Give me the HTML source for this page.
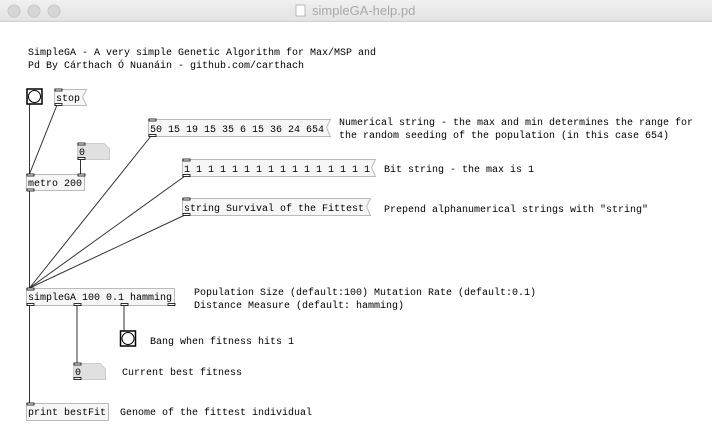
<!DOCTYPE html>
<html><head><meta charset="utf-8"><style>
html,body{margin:0;padding:0;background:#fff;width:712px;height:440px;overflow:hidden}
text{font-family:"Liberation Mono",monospace;font-size:10px;fill:#000}
</style></head><body>
<svg width="712" height="440" viewBox="0 0 712 440" xmlns="http://www.w3.org/2000/svg">
<defs><linearGradient id="tb" x1="0" y1="0" x2="0" y2="1"><stop offset="0" stop-color="#f0f0f0"/><stop offset="1" stop-color="#e2e2e2"/></linearGradient></defs>
<rect x="0" y="0" width="712" height="22" fill="url(#tb)"/>
<line x1="0" y1="21.5" x2="712" y2="21.5" stroke="#d0d0d0"/>
<circle cx="14" cy="11" r="6" fill="#d6d6d6" stroke="#c8c8c8"/>
<circle cx="34" cy="11" r="6" fill="#d6d6d6" stroke="#c8c8c8"/>
<circle cx="54" cy="11" r="6" fill="#d6d6d6" stroke="#c8c8c8"/>
<rect x="296" y="5" width="9" height="11" fill="#fff" stroke="#aaa" stroke-width="0.8"/>
<text x="312" y="15" style="font-family:'Liberation Sans',sans-serif;font-size:13px;fill:#a8a8a8">simpleGA-help.pd</text>

<text x="28" y="55">SimpleGA - A very simple Genetic Algorithm for Max/MSP and</text>
<text x="28" y="68">Pd By Cárthach Ó Nuanáin - github.com/carthach</text>

<g stroke="#333" stroke-width="1" fill="none">
<line x1="29.5" y1="104" x2="29.5" y2="174"/>
<line x1="57" y1="105" x2="29.5" y2="174"/>
<line x1="80.5" y1="159" x2="80.5" y2="174"/>
<line x1="29.5" y1="190" x2="29.5" y2="288"/>
<line x1="151" y1="136" x2="29.5" y2="288"/>
<line x1="185" y1="176" x2="29.5" y2="288"/>
<line x1="185" y1="215" x2="29.5" y2="288"/>
<line x1="29.5" y1="305" x2="29.5" y2="403"/>
<line x1="77" y1="305" x2="77" y2="363"/>
<line x1="124" y1="305" x2="124" y2="331"/>
</g>

<g fill="#f6f6f6" stroke="#bbb" stroke-width="1">
<!-- stop message -->
<path d="M54.5 89.5 H86.5 L82.5 97 L86.5 105.5 H54.5 Z"/>
<!-- 50 msg -->
<path d="M148.5 119.5 H330.5 L326.5 127.5 L330.5 136.5 H148.5 Z"/>
<!-- bit msg -->
<path d="M182.5 159.5 H375.5 L371.5 167.5 L375.5 176.5 H182.5 Z"/>
<!-- string msg -->
<path d="M182.5 198.5 H370.5 L366.5 206.5 L370.5 215.5 H182.5 Z"/>
<rect x="26.5" y="174.5" width="58" height="16"/>
<rect x="26.5" y="288.5" width="148" height="17"/>
<rect x="26.5" y="403.5" width="82" height="17"/>
</g>
<g fill="#e0e0e0" stroke="#ccc">
<path d="M77.5 143.5 H104 L109.5 149 V159.5 H77.5 Z"/>
<path d="M73.5 363.5 H100 L105.5 369 V379.5 H73.5 Z"/>
</g>
<!-- bangs -->
<rect x="27" y="89" width="15" height="15" fill="#fff" stroke="#000" stroke-width="1.5"/>
<circle cx="34.5" cy="96.5" r="6" fill="#fff" stroke="#000"/>
<rect x="120.5" y="331" width="15" height="15" fill="#fff" stroke="#000" stroke-width="1.5"/>
<circle cx="128" cy="338.5" r="6" fill="#fff" stroke="#000"/>

<!-- inlets/outlets -->
<g fill="#fff" stroke="#000" stroke-width="0.8">
<rect x="55" y="89" width="7" height="2"/><rect x="55" y="103.5" width="7" height="2"/>
<rect x="149" y="119" width="7" height="2"/><rect x="149" y="134.5" width="7" height="2"/>
<rect x="183" y="159" width="7" height="2"/><rect x="183" y="174.5" width="7" height="2"/>
<rect x="183" y="198" width="7" height="2"/><rect x="183" y="213.5" width="7" height="2"/>
<rect x="78" y="143" width="7" height="2"/><rect x="78" y="157.5" width="7" height="2"/>
<rect x="27" y="174" width="7" height="2"/><rect x="78" y="174" width="7" height="2"/><rect x="27" y="189" width="7" height="2"/>
<rect x="27" y="288" width="7" height="2"/><rect x="27" y="303.5" width="7" height="2"/><rect x="74" y="303.5" width="7" height="2"/><rect x="121" y="303.5" width="7" height="2"/><rect x="168" y="303.5" width="7" height="2"/>
<rect x="74" y="363" width="7" height="2"/><rect x="74" y="377.5" width="7" height="2"/>
<rect x="27" y="403" width="7" height="2"/>
</g>

<text x="56" y="101">stop</text>
<text x="150" y="132">50 15 19 15 35 6 15 36 24 654</text>
<text x="184" y="172">1 1 1 1 1 1 1 1 1 1 1 1 1 1 1 1</text>
<text x="184" y="211">string Survival of the Fittest</text>
<text x="79" y="155">0</text>
<text x="28" y="186">metro 200</text>
<text x="28" y="300">simpleGA 100 0.1 hamming</text>
<text x="75" y="375">0</text>
<text x="28" y="415">print bestFit</text>

<text x="339" y="125">Numerical string - the max and min determines the range for</text>
<text x="339" y="138">the random seeding of the population (in this case 654)</text>
<text x="384" y="172">Bit string - the max is 1</text>
<text x="384" y="212">Prepend alphanumerical strings with "string"</text>
<text x="194" y="295">Population Size (default:100) Mutation Rate (default:0.1)</text>
<text x="194" y="308">Distance Measure (default: hamming)</text>
<text x="150" y="344">Bang when fitness hits 1</text>
<text x="122" y="375">Current best fitness</text>
<text x="120" y="415">Genome of the fittest individual</text>
</svg>
</body></html>
